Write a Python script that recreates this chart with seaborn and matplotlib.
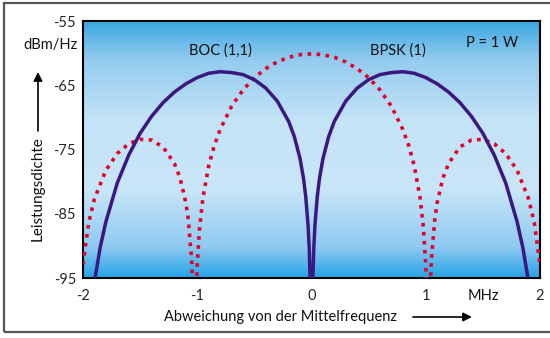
import matplotlib
matplotlib.use("Agg")
import matplotlib.pyplot as plt
import seaborn as sns
import numpy as np
import pandas as pd
from matplotlib.colors import LinearSegmentedColormap
from matplotlib.patches import Rectangle

# frequency offsets (MHz) and power densities
boc_freq = [-2.0, -1.95, -1.9, -1.85, -1.8, -1.7, -1.6, -1.5, -1.4, -1.3, -1.2, -1.1,
            -1.0, -0.9, -0.8, -0.7, -0.6, -0.5, -0.4, -0.3, -0.2, -0.15, -0.1, -0.07,
            -0.05, -0.03, -0.02, -0.01, 0.0, 0.01, 0.02, 0.03, 0.05, 0.07, 0.1, 0.15,
            0.2, 0.3, 0.4, 0.5, 0.6, 0.7, 0.8, 0.9, 1.0, 1.1, 1.2, 1.3, 1.4, 1.5, 1.6,
            1.7, 1.8, 1.85, 1.9, 1.95, 2.0]
boc_psd = [-115.9, -102.85, -95.59, -90.29, -86.26, -80.22, -75.88, -72.48, -69.84,
           -67.72, -66.06, -64.78, -63.80, -63.14, -62.89, -63.03, -63.34, -64.13,
           -65.44, -67.46, -70.62, -73.01, -76.44, -79.50, -82.41, -86.83, -90.35,
           -96.4, -130.0, -96.4, -90.35, -86.83, -82.41, -79.50, -76.44, -73.01,
           -70.62, -67.46, -65.44, -64.13, -63.34, -63.03, -62.89, -63.14, -63.80,
           -64.78, -66.06, -67.72, -69.84, -72.48, -75.88, -80.22, -86.26, -90.29,
           -95.59, -102.85, -115.9]

bpsk_freq = [-2.0, -1.95, -1.9, -1.8, -1.7, -1.6, -1.5, -1.4, -1.3, -1.2, -1.15, -1.1,
             -1.08, -1.05, -1.04, -1.023, -1.01, -1.0, -0.98, -0.95, -0.9, -0.85, -0.8,
             -0.7, -0.6, -0.5, -0.4, -0.3, -0.2, -0.1, 0.0, 0.1, 0.2, 0.3, 0.4, 0.5,
             0.6, 0.7, 0.8, 0.85, 0.9, 0.95, 0.98, 1.0, 1.01, 1.023, 1.04, 1.05, 1.08,
             1.1, 1.15, 1.2, 1.3, 1.4, 1.5, 1.6, 1.7, 1.8, 1.9, 1.95, 2.0]
bpsk_psd = [-92.88, -86.36, -82.68, -78.24, -75.63, -74.11, -73.42, -73.53, -74.60,
            -77.16, -79.46, -83.28, -85.70, -91.91, -95.84, -120.0, -97.9, -92.88,
            -87.28, -82.45, -77.58, -74.33, -71.90, -68.29, -65.73, -63.83, -62.41,
            -61.37, -60.65, -60.24, -60.10, -60.24, -60.65, -61.37, -62.41, -63.83,
            -65.73, -68.29, -71.90, -74.33, -77.58, -82.45, -87.28, -92.88, -97.9,
            -120.0, -95.84, -91.91, -85.70, -83.28, -79.46, -77.16, -74.60, -73.53,
            -73.42, -74.11, -75.63, -78.24, -82.68, -86.36, -92.88]

x_ticks = [-2, -1, 0, 1, 2]
x_tick_labels = ["-2", "-1", "0", "1", "2"]
y_ticks = [-95, -85, -75, -65, -55]
y_tick_labels = ["-95", "-85", "-75", "-65", "-55"]

W, H = 550, 338
FONT = ["Lato", "DejaVu Sans"]


def fx(px):
    return px / W


def fy(py):
    return 1 - py / H


sns.set_style("white")
plt.rcParams["font.family"] = FONT
plt.rcParams["font.size"] = 10
plt.rcParams["text.color"] = "#111111"

fig = plt.figure(figsize=(5.5, 3.38), dpi=100)
ax = fig.add_axes([fx(83), fy(278), fx(540) - fx(83), fy(21) - fy(278)])

# blue gradient background
bg = LinearSegmentedColormap.from_list("bg", [
    (0.0, "#25a4e6"), (0.12, "#8fcaf1"), (0.35, "#c9e6f8"),
    (0.62, "#c3e3f7"), (0.85, "#93cbef"), (1.0, "#3ba7df")])
grad = np.linspace(0, 1, 256).reshape(-1, 1)
ax.imshow(grad, cmap=bg, origin="lower", aspect="auto",
          extent=[-2, 2, -95, -55], zorder=0)

boc = pd.DataFrame({"f": boc_freq, "psd": boc_psd})
bpsk = pd.DataFrame({"f": bpsk_freq, "psd": bpsk_psd})

sns.lineplot(data=bpsk, x="f", y="psd", ax=ax, color="#e4002b", lw=2.6,
             linestyle=(0, (1.0, 1.5)), dash_capstyle="butt", sort=False, zorder=3)
sns.lineplot(data=boc, x="f", y="psd", ax=ax, color="#3b1880", lw=2.5,
             sort=False, zorder=4)

ax.set_xlim(-2, 2)
ax.set_ylim(-95, -55)
ax.set_xticks(x_ticks)
ax.set_xticklabels(x_tick_labels)
ax.set_yticks(y_ticks)
ax.set_yticklabels(y_tick_labels)
ax.tick_params(axis="y", direction="in", length=6, width=1.5, pad=5, labelsize=10.5)
ax.tick_params(axis="x", length=0, pad=8, labelsize=10.5)
ax.set_xlabel("")
ax.set_ylabel("")
for s in ax.spines.values():
    s.set_color("black")
    s.set_linewidth(1.5)

ax.text(-0.80, -59.6, "BOC (1,1)", ha="center", va="center", fontsize=10.5)
ax.text(0.76, -59.6, "BPSK (1)", ha="center", va="center", fontsize=10.5)
ax.text(1.58, -58.4, "P = 1 W", ha="center", va="center", fontsize=10.5)

fig.text(fx(50), fy(45), "dBm/Hz", ha="center", va="center", fontsize=10.5)
fig.text(fx(38), fy(189), "Leistungsdichte", ha="center", va="center",
         rotation=90, fontsize=11)
fig.text(fx(483), fy(296), "MHz", ha="center", va="center", fontsize=10.5)
fig.text(fx(281), fy(317), "Abweichung von der Mittelfrequenz", ha="center",
         va="center", fontsize=10.5)

arrow = dict(arrowstyle="-|>", color="black", lw=1.2, mutation_scale=13,
             shrinkA=0, shrinkB=0)
ax.annotate("", xy=(fx(38), fy(72)), xytext=(fx(38), fy(131)),
            xycoords="figure fraction", textcoords="figure fraction",
            arrowprops=arrow, annotation_clip=False)
ax.annotate("", xy=(fx(472), fy(317)), xytext=(fx(413), fy(317)),
            xycoords="figure fraction", textcoords="figure fraction",
            arrowprops=arrow, annotation_clip=False)

# outer frame (open on the right, as in the scan)
fig.patches.append(Rectangle((fx(4), fy(332)), fx(560) - fx(4), fy(3) - fy(332),
                             transform=fig.transFigure, fill=False,
                             edgecolor="#555555", lw=1.6))

fig.savefig("out.png", dpi=100)
